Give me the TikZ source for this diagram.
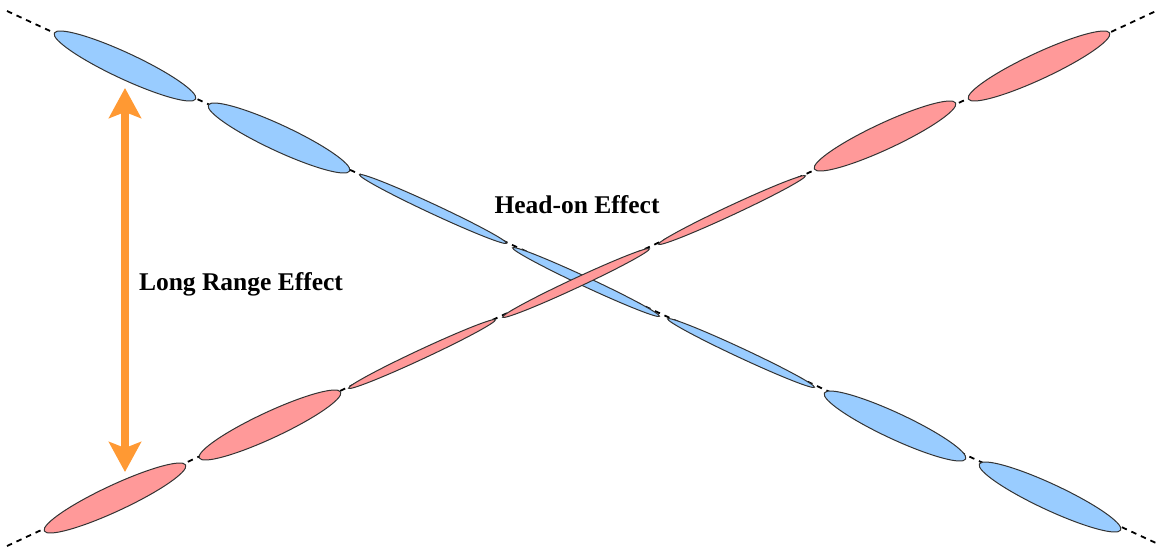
\documentclass[tikz,border=0pt]{standalone}
\usepackage{fontspec}
\setmainfont{Liberation Serif}
\usetikzlibrary{shapes.geometric,arrows.meta}
\definecolor{bunchblue}{HTML}{99CCFF}
\definecolor{bunchred}{HTML}{FF9999}
\definecolor{effectorange}{HTML}{FF9933}
\begin{document}
\begin{tikzpicture}[x=1pt,y=-1pt,
  bunch/.style={ellipse, draw=black!80, line width=1pt, inner sep=0pt},
  fatbunch/.style={bunch, minimum width=156pt, minimum height=26pt},
  thinbunch/.style={bunch, minimum width=162pt, minimum height=9.5pt},
  bluebunch/.style={fill=bunchblue, rotate=-25},
  redbunch/.style={fill=bunchred, rotate=25},
  orbit/.style={line width=1.8pt, dash pattern=on 5.5pt off 5pt},
  label/.style={font=\bfseries\fontsize{25.5}{30}\selectfont, inner sep=0pt, anchor=base}]
\useasboundingbox (0,0) rectangle (1156,547);

% beam axes
\coordinate (bstart) at (7,11);
\coordinate (bend) at (1156,543);
\coordinate (rstart) at (7,546);
\coordinate (rend) at (1156,11);
\draw[orbit] (bstart) -- (bend);
\draw[orbit] (rstart) -- (rend);

% blue beam bunches
\node[fatbunch,bluebunch]  (b1) at (125,66) {};
\node[fatbunch,bluebunch]  (b2) at (279,138) {};
\node[thinbunch,bluebunch] (b3) at (433,209) {};
\node[thinbunch,bluebunch] (b4) at (586,282) {};
\node[thinbunch,bluebunch] (b5) at (741,353) {};
\node[fatbunch,bluebunch]  (b6) at (895,426) {};
\node[fatbunch,bluebunch]  (b7) at (1050,497) {};

% red beam bunches
\node[fatbunch,redbunch]  (r1) at (115,498) {};
\node[fatbunch,redbunch]  (r2) at (270,425) {};
\node[thinbunch,redbunch] (r3) at (422,354) {};
\node[thinbunch,redbunch] (r4) at (576,283) {};
\node[thinbunch,redbunch] (r5) at (732,210) {};
\node[fatbunch,redbunch]  (r6) at (885,136) {};
\node[fatbunch,redbunch]  (r7) at (1039,66) {};

% long range separation arrow
\coordinate (atop) at (125,88);
\coordinate (abot) at (125,472);
\draw[effectorange, line width=8pt,
  {Stealth[length=30pt,width=32pt,inset=6pt]}-{Stealth[length=30pt,width=32pt,inset=6pt]}]
  (atop) -- (abot);

% labels
\node[label] (headon) at (577,213) {Head-on Effect};
\node[label] (longrange) at (241,290) {Long Range Effect};
\end{tikzpicture}
\end{document}
